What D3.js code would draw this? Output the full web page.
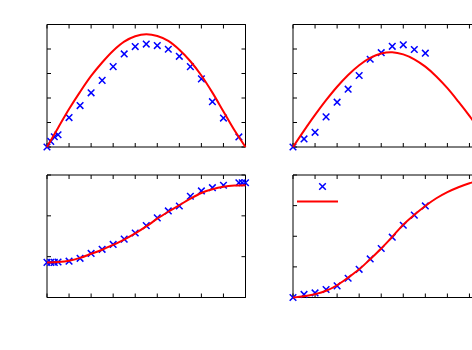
<!DOCTYPE html>
<html>
<head>
<meta charset="utf-8">
<script src="https://cdn.jsdelivr.net/npm/d3@7"></script>
<style>
  html, body { margin: 0; padding: 0; background: #fff; overflow: hidden; }
  svg { display: block; }
  .frame path.domain { stroke: #000; stroke-width: 1; }
  .frame .tick line { stroke: #000; stroke-width: 1; }
</style>
</head>
<body>
<svg id="chart" width="472" height="350"></svg>
<script>
// fit curves sampled every half unit
var curveX = [0, 0.5, 1, 1.5, 2, 2.5, 3, 3.5, 4, 4.5, 5, 5.5, 6, 6.5, 7, 7.5, 8, 8.5, 9];

// top left
var pointsX1 = [0, 0.17, 0.33, 0.5, 1, 1.5, 2, 2.5, 3, 3.5, 4, 4.5, 5, 5.5, 6, 6.5, 7, 7.5, 8, 8.7];
var pointsY1 = [0, 0.23, 0.42, 0.5, 1.2, 1.69, 2.21, 2.72, 3.28, 3.8, 4.1, 4.2, 4.14, 3.99, 3.7, 3.28, 2.78, 1.85, 1.18, 0.41];
var fitY1 = [0, 0.78, 1.55, 2.25, 2.9, 3.45, 3.93, 4.3, 4.52, 4.6, 4.53, 4.33, 3.97, 3.5, 2.92, 2.22, 1.45, 0.68, 0];

// top right
var pointsX2 = [0, 0.5, 1, 1.5, 2, 2.5, 3, 3.5, 4, 4.5, 5, 5.5, 6];
var pointsY2 = [0, 0.33, 0.6, 1.23, 1.83, 2.36, 2.92, 3.58, 3.85, 4.11, 4.17, 3.98, 3.83];
var fitY2 = [0, 0.67, 1.31, 1.91, 2.46, 2.94, 3.34, 3.64, 3.82, 3.87, 3.78, 3.58, 3.28, 2.88, 2.4, 1.85, 1.27, 0.65, 0];

// bottom left
var pointsX3 = [0, 0.17, 0.33, 0.5, 1, 1.5, 2, 2.5, 3, 3.5, 4, 4.5, 5, 5.5, 6, 6.5, 7, 7.5, 8, 8.7, 8.85, 9];
var pointsY3 = [0.86, 0.86, 0.86, 0.87, 0.89, 0.96, 1.08, 1.18, 1.3, 1.43, 1.58, 1.76, 1.95, 2.12, 2.24, 2.48, 2.61, 2.69, 2.75, 2.81, 2.81, 2.81];
var fitY3 = [0.86, 0.87, 0.9, 0.97, 1.07, 1.17, 1.29, 1.42, 1.57, 1.74, 1.93, 2.1, 2.26, 2.42, 2.56, 2.65, 2.71, 2.74, 2.75];

// bottom right
var pointsX4 = [0, 0.5, 1, 1.5, 2, 2.5, 3, 3.5, 4, 4.5, 5, 5.5, 6];
var pointsY4 = [0, 0.1, 0.15, 0.26, 0.38, 0.63, 0.92, 1.26, 1.6, 1.97, 2.36, 2.69, 2.99];
var fitY4 = [0, 0.04, 0.11, 0.22, 0.4, 0.65, 0.92, 1.25, 1.6, 1.98, 2.38, 2.7, 2.99, 3.24, 3.44, 3.6, 3.73, 3.82, 3.86];

var xTicks = [0, 1, 2, 3, 4, 5, 6, 7, 8, 9];
var yMax = [5, 5, 3, 4];

var panels = [
  { left: 47, top: 24.5, px: pointsX1, py: pointsY1, fy: fitY1, ymax: yMax[0] },
  { left: 293, top: 24.5, px: pointsX2, py: pointsY2, fy: fitY2, ymax: yMax[1] },
  { left: 47, top: 175, px: pointsX3, py: pointsY3, fy: fitY3, ymax: yMax[2] },
  { left: 293, top: 175, px: pointsX4, py: pointsY4, fy: fitY4, ymax: yMax[3], legend: true }
];

var width = 198.5,
    height = 122.5,
    tickLen = 4;

var svg = d3.select('#chart');

var cross = 'M-3.3,-3.3L3.3,3.3M-3.3,3.3L3.3,-3.3';

panels.forEach(function(p) {
  var x = d3.scaleLinear().domain([0, 9]).range([0, width]);
  var y = d3.scaleLinear().domain([0, p.ymax]).range([height, 0]);
  var yTicks = d3.range(0, p.ymax + 1);

  var g = svg.append('g')
    .attr('transform', 'translate(' + p.left + ',' + p.top + ')');

  // inward ticks on all four sides, no labels
  var frame = g.append('g').attr('class', 'frame');
  frame.append('g')
    .attr('transform', 'translate(0,' + height + ')')
    .call(d3.axisBottom(x).tickValues(xTicks).tickSize(-tickLen).tickSizeOuter(0).tickFormat('').offset(0));
  frame.append('g')
    .call(d3.axisTop(x).tickValues(xTicks).tickSize(-tickLen).tickSizeOuter(0).tickFormat('').offset(0));
  frame.append('g')
    .call(d3.axisLeft(y).tickValues(yTicks).tickSize(-tickLen).tickSizeOuter(0).tickFormat('').offset(0));
  frame.append('g')
    .attr('transform', 'translate(' + width + ',0)')
    .call(d3.axisRight(y).tickValues(yTicks).tickSize(-tickLen).tickSizeOuter(0).tickFormat('').offset(0));

  var pts = p.px.map(function(d, i) { return [d, p.py[i]]; });

  g.selectAll('path.point')
    .data(pts)
    .enter()
    .append('path')
    .attr('class', 'point')
    .attr('transform', function(d) { return 'translate(' + x(d[0]) + ',' + y(d[1]) + ')'; })
    .attr('d', cross)
    .attr('fill', 'none')
    .attr('stroke', '#0000ff')
    .attr('stroke-width', 1.5);

  var fit = curveX.map(function(d, i) { return [d, p.fy[i]]; });

  var line = d3.line()
    .x(function(d) { return x(d[0]); })
    .y(function(d) { return y(d[1]); })
    .curve(d3.curveCatmullRom);

  g.append('path')
    .datum(fit)
    .attr('d', line)
    .attr('fill', 'none')
    .attr('stroke', '#ff0000')
    .attr('stroke-width', 2);

  if (p.legend) {
    var lg = g.append('g').attr('transform', 'translate(4,11.5)');
    lg.append('path')
      .attr('transform', 'translate(25.5,0)')
      .attr('d', cross)
      .attr('fill', 'none')
      .attr('stroke', '#0000ff')
      .attr('stroke-width', 1.5);
    lg.append('line')
      .attr('x1', 0)
      .attr('x2', 41)
      .attr('y1', 15)
      .attr('y2', 15)
      .attr('stroke', '#ff0000')
      .attr('stroke-width', 2);
  }
});
</script>
</body>
</html>
